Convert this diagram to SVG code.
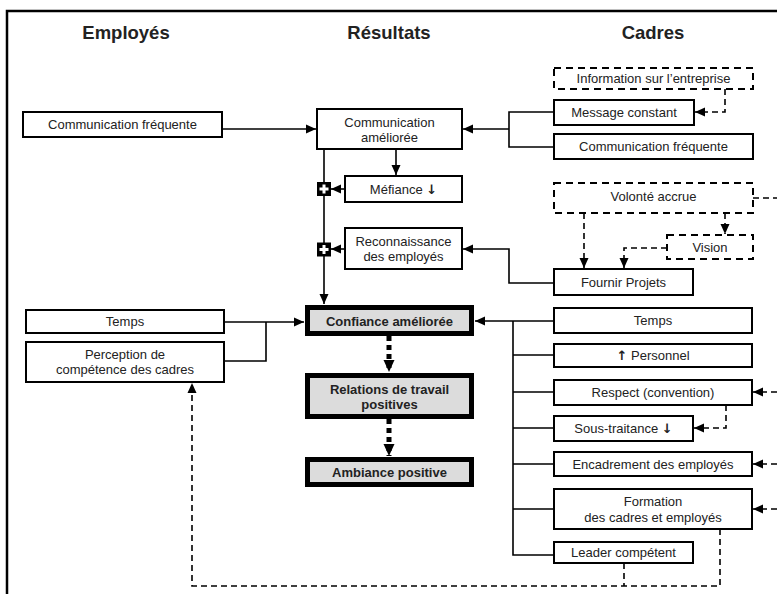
<svg xmlns="http://www.w3.org/2000/svg" width="777" height="594" viewBox="0 0 777 594">
<defs>
<marker id="ah" markerUnits="userSpaceOnUse" markerWidth="11" markerHeight="10" refX="10" refY="5" orient="auto"><path d="M0,0.5 L10,5 L0,9.5 z" fill="#000" stroke="none"/></marker>
<marker id="ahb" markerUnits="userSpaceOnUse" markerWidth="13" markerHeight="12" refX="12" refY="6" orient="auto"><path d="M0,0.5 L12,6 L0,11.5 z" fill="#000" stroke="none"/></marker>
<style>
.t{font-family:"Liberation Sans",Arial,sans-serif;font-size:13px;fill:#222;text-anchor:middle}
.h{font-family:"Liberation Sans",Arial,sans-serif;font-size:18.5px;font-weight:bold;fill:#222;text-anchor:middle}
.b{font-family:"Liberation Sans",Arial,sans-serif;font-size:13px;font-weight:bold;fill:#222;text-anchor:middle}
.ar{font-family:"DejaVu Sans",sans-serif;font-weight:bold}
.box{fill:#fff;stroke:#000;stroke-width:2}
.dbox{fill:#fff;stroke:#000;stroke-width:2;stroke-dasharray:7,5}
.res{fill:#dcdcdc;stroke:#000;stroke-width:5}
.c{fill:none;stroke:#000;stroke-width:1.6}
.d{fill:none;stroke:#000;stroke-width:1.6;stroke-dasharray:6,4}
.dot{fill:none;stroke:#000;stroke-width:5;stroke-dasharray:5,4}
</style>
</defs>
<rect width="777" height="594" fill="#fff"/>
<path d="M7,594 V11 H777" fill="none" stroke="#000" stroke-width="2.5"/>
<text class="h" x="126" y="39">Employés</text>
<text class="h" x="389" y="39">Résultats</text>
<text class="h" x="653" y="39">Cadres</text>

<g id="connectors">
<path class="c" d="M222,129 H316" marker-end="url(#ah)"/>
<path class="c" d="M554,112 H509 V147 H554"/>
<path class="c" d="M509,129 H463" marker-end="url(#ah)"/>
<path class="d" d="M725,89 V112 H695" marker-end="url(#ah)"/>
<path class="c" d="M396,149 V175" marker-end="url(#ah)"/>
<path class="c" d="M324,149 V304" marker-end="url(#ah)"/>
<path class="c" d="M345,189 H331" marker-end="url(#ah)"/>
<path class="c" d="M345,249 H331" marker-end="url(#ah)"/>
<path class="c" d="M554,283 H509 V249 H463" marker-end="url(#ah)"/>
<path class="d" d="M584,213 V268" marker-end="url(#ah)"/>
<path class="d" d="M725,213 V234" marker-end="url(#ah)"/>
<path class="d" d="M667,248 H624 V268" marker-end="url(#ah)"/>
<path class="d" d="M753,198 H777"/>
<path class="c" d="M224,322 H304" marker-end="url(#ah)"/>
<path class="c" d="M224,361 H266 V322"/>
<path class="c" d="M554,321 H475" marker-end="url(#ah)"/>
<path class="c" d="M513,321 V555 H554 M513,355 H554 M513,392 H554 M513,428 H554 M513,464 H554 M513,509 H554"/>
<path class="d" d="M777,392 H753" marker-end="url(#ah)"/>
<path class="d" d="M726,405 V428 H694" marker-end="url(#ah)"/>
<path class="d" d="M777,464 H753" marker-end="url(#ah)"/>
<path class="d" d="M777,509 H753" marker-end="url(#ah)"/>
<path class="d" d="M720,529 V586 H192 V383" marker-end="url(#ah)"/>
<path class="d" d="M624,563 V586"/>
<path class="dot" d="M389,336 V372" marker-end="url(#ahb)"/>
<path class="dot" d="M389,419 V456" marker-end="url(#ahb)"/>
</g>

<g id="plus1"><rect x="317" y="182" width="14" height="14" fill="#000"/><path d="M319.5,189 H328.5 M324,184.5 V193.5" stroke="#fff" stroke-width="3"/></g>
<g id="plus2"><rect x="317" y="242.5" width="14" height="14" fill="#000"/><path d="M319.5,249.5 H328.5 M324,245 V254" stroke="#fff" stroke-width="3"/></g>

<g id="emp_comm"><rect class="box" x="23" y="112" width="199" height="25"/><text class="t" x="122.5" y="129">Communication fréquente</text></g>
<g id="res_comm"><rect class="box" x="317" y="109" width="145" height="40"/><text class="t" x="389.5" y="127">Communication</text><text class="t" x="389.5" y="142">améliorée</text></g>
<g id="mefiance"><rect class="box" x="345" y="176" width="117" height="26"/><text class="t" x="403.5" y="194">Méfiance <tspan class="ar">↓</tspan></text></g>
<g id="reconnaissance"><rect class="box" x="345" y="228" width="117" height="41"/><text class="t" x="403.5" y="246">Reconnaissance</text><text class="t" x="403.5" y="261">des employés</text></g>
<g id="confiance"><rect class="res" x="307.5" y="307.5" width="164" height="26"/><text class="b" x="389.5" y="326">Confiance améliorée</text></g>
<g id="relations"><rect class="res" x="307.5" y="375.5" width="164" height="41"/><text class="b" x="389.5" y="394">Relations de travail</text><text class="b" x="389.5" y="409">positives</text></g>
<g id="ambiance"><rect class="res" x="307.5" y="459.5" width="164" height="25"/><text class="b" x="389.5" y="477">Ambiance positive</text></g>

<g id="info"><rect class="dbox" x="554" y="68" width="199" height="21"/><text class="t" x="653.5" y="83">Information sur l’entreprise</text></g>
<g id="message"><rect class="box" x="554" y="100" width="140" height="25"/><text class="t" x="624" y="117">Message constant</text></g>
<g id="cadre_comm"><rect class="box" x="554" y="134" width="199" height="25"/><text class="t" x="653.5" y="151">Communication fréquente</text></g>
<g id="volonte"><rect class="dbox" x="554" y="183" width="199" height="30"/><text class="t" x="653.5" y="201">Volonté accrue</text></g>
<g id="vision"><rect class="dbox" x="667" y="235" width="86" height="24"/><text class="t" x="710" y="252">Vision</text></g>
<g id="fournir"><rect class="box" x="554" y="269" width="139" height="26"/><text class="t" x="623.5" y="287">Fournir Projets</text></g>
<g id="c_temps"><rect class="box" x="554" y="308" width="198" height="25"/><text class="t" x="653" y="325">Temps</text></g>
<g id="personnel"><rect class="box" x="554" y="344" width="198" height="23"/><text class="t" x="653" y="360"><tspan class="ar">↑</tspan> Personnel</text></g>
<g id="respect"><rect class="box" x="554" y="380" width="198" height="25"/><text class="t" x="653" y="397">Respect (convention)</text></g>
<g id="sous"><rect class="box" x="554" y="416" width="139" height="25"/><text class="t" x="623.5" y="433">Sous-traitance <tspan class="ar">↓</tspan></text></g>
<g id="encadrement"><rect class="box" x="554" y="452" width="198" height="24"/><text class="t" x="653" y="469">Encadrement des employés</text></g>
<g id="formation"><rect class="box" x="554" y="489" width="198" height="40"/><text class="t" x="653" y="506">Formation</text><text class="t" x="653" y="522">des cadres et employés</text></g>
<g id="leader"><rect class="box" x="554" y="542" width="139" height="21"/><text class="t" x="623.5" y="557">Leader compétent</text></g>

<g id="e_temps"><rect class="box" x="26" y="310" width="198" height="23"/><text class="t" x="125" y="326">Temps</text></g>
<g id="perception"><rect class="box" x="26" y="342" width="198" height="40"/><text class="t" x="125" y="359">Perception de</text><text class="t" x="125" y="374">compétence des cadres</text></g>
</svg>
